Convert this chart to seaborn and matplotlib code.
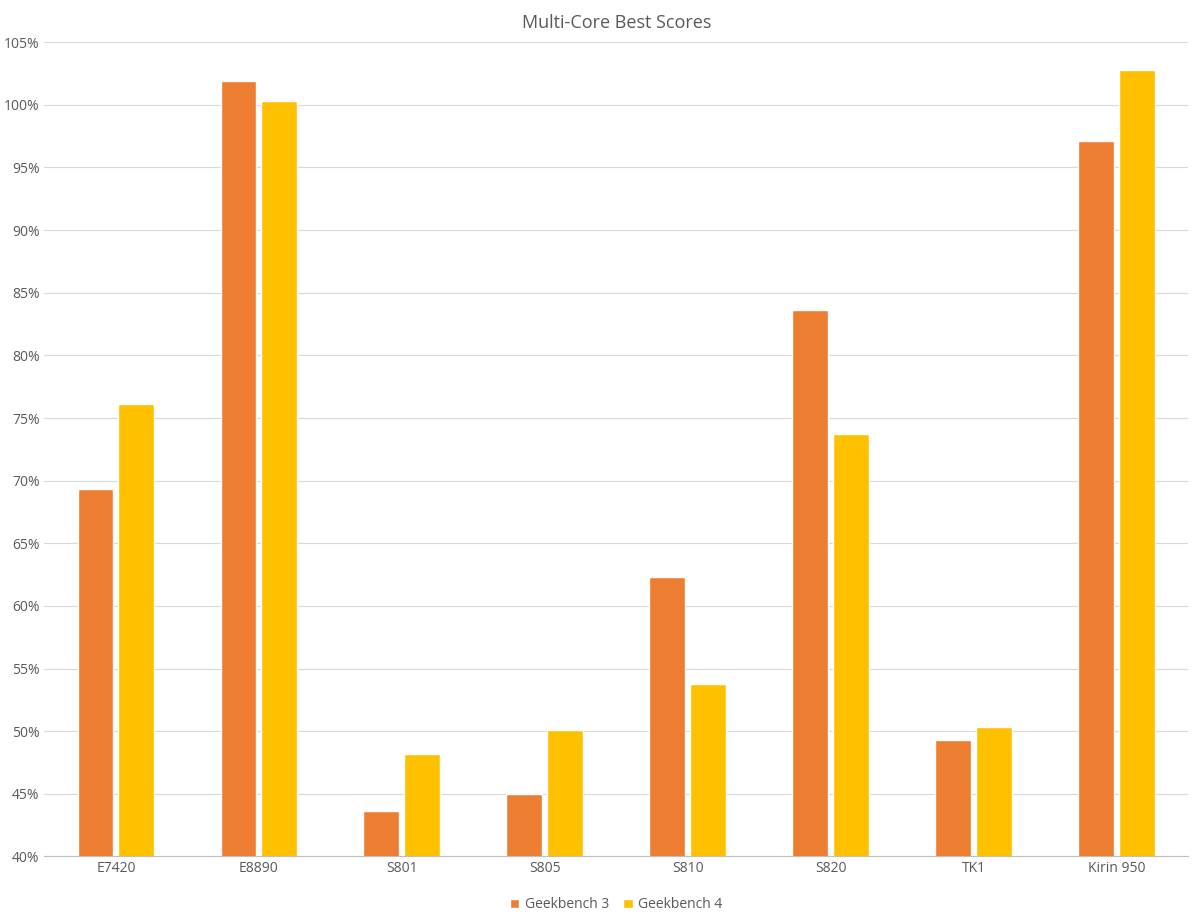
import pandas as pd
import matplotlib.pyplot as plt
import seaborn as sns
from matplotlib.ticker import FuncFormatter

chips = ['E7420', 'E8890', 'S801', 'S805', 'S810', 'S820', 'TK1', 'Kirin 950']
gb3 = [69.3, 101.9, 43.6, 45.0, 62.3, 83.6, 49.3, 97.1]
gb4 = [76.1, 100.3, 48.2, 50.1, 53.8, 73.7, 50.3, 102.8]

df = pd.DataFrame({
    'chip': chips * 2,
    'score': gb3 + gb4,
    'bench': ['Geekbench 3'] * len(chips) + ['Geekbench 4'] * len(chips),
})

sns.set_style('white')
plt.rcParams['font.family'] = ['Open Sans', 'DejaVu Sans']

fig = plt.figure(figsize=(12, 9.18), dpi=100)
ax = fig.add_axes([0.037, 0.067, 0.953, 0.887])

sns.barplot(data=df, x='chip', y='score', hue='bench',
            palette=['#ED7D31', '#FFC000'], width=0.57, gap=0.12,
            saturation=1, ax=ax)

ax.set_ylim(40, 105)
ax.set_yticks(range(40, 106, 5))
ax.yaxis.set_major_formatter(FuncFormatter(lambda v, p: f'{v:.0f}%'))
ax.grid(axis='y', color='#d9d9d9', linewidth=0.8)
ax.set_axisbelow(True)
for s in ['top', 'right', 'left']:
    ax.spines[s].set_visible(False)
ax.spines['bottom'].set_color('#bfbfbf')
ax.tick_params(axis='both', length=0, labelsize=10, colors='#595959')
ax.set_xlabel('')
ax.set_ylabel('')
ax.set_title('Multi-Core Best Scores', fontsize=13, color='#595959', pad=10)

ax.legend(loc='upper center', bbox_to_anchor=(0.5, -0.035), ncol=2,
          frameon=False, fontsize=10, handlelength=0.7, handleheight=0.7,
          labelcolor='#595959', columnspacing=1.0, handletextpad=0.4)

fig.savefig('out.png', dpi=100)
